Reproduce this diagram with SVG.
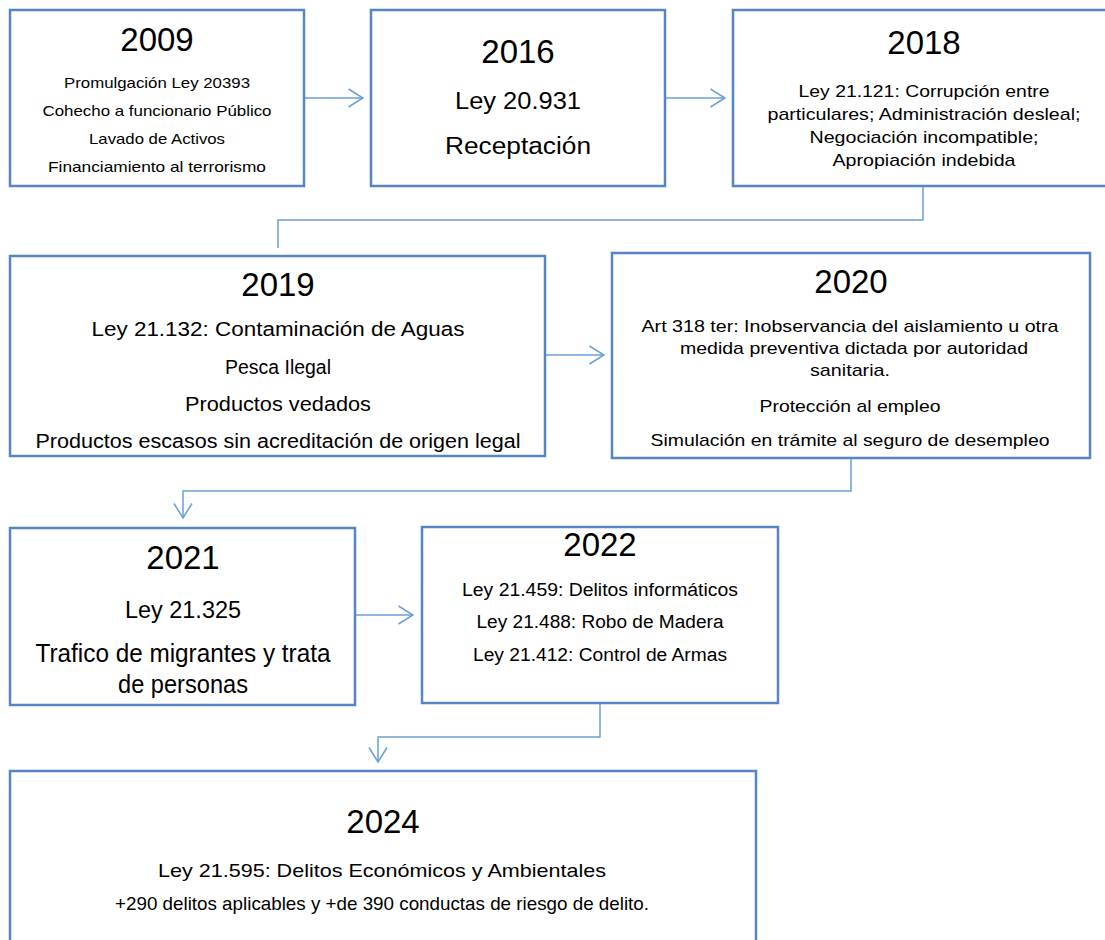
<svg xmlns="http://www.w3.org/2000/svg" width="1105" height="940" viewBox="0 0 1105 940">
<defs>
<style>
.box{fill:#fff;stroke:#5586C3;stroke-width:2.5}
.con{fill:none;stroke:#6A9FD8;stroke-width:1.5}
text{font-family:"Liberation Sans",Arial,sans-serif;fill:#000;text-anchor:middle}
.yr{font-size:33px}
</style>
<marker id="arr" viewBox="0 0 16 20" refX="15.5" refY="10" markerWidth="16" markerHeight="20" markerUnits="userSpaceOnUse" orient="auto">
<path d="M1,1 L15.5,10 L1,19" fill="none" stroke="#6A9FD8" stroke-width="1.5"/>
</marker>
</defs>
<rect width="1105" height="940" fill="#fff"/>
<g id="connectors">
<line class="con" x1="304" y1="98" x2="363" y2="98" marker-end="url(#arr)"/>
<line class="con" x1="665" y1="98" x2="725" y2="98" marker-end="url(#arr)"/>
<polyline class="con" points="923,186 923,220 278,220 278,248"/>
<line class="con" x1="545" y1="355" x2="604" y2="355" marker-end="url(#arr)"/>
<polyline class="con" points="851,458 851,491 183,491 183,518" marker-end="url(#arr)"/>
<line class="con" x1="355" y1="615" x2="413" y2="615" marker-end="url(#arr)"/>
<polyline class="con" points="600,703 600,737 378,737 378,762" marker-end="url(#arr)"/>
</g>
<g id="n2009">
<rect class="box" x="10" y="10" width="294" height="176"/>
<text class="yr" x="157" y="51">2009</text>
<g style="font-size:15px">
<text x="157" y="88" textLength="186" lengthAdjust="spacingAndGlyphs">Promulgación Ley 20393</text>
<text x="157" y="116" textLength="229" lengthAdjust="spacingAndGlyphs">Cohecho a funcionario Público</text>
<text x="157" y="144" textLength="136" lengthAdjust="spacingAndGlyphs">Lavado de Activos</text>
<text x="157" y="172" textLength="218" lengthAdjust="spacingAndGlyphs">Financiamiento al terrorismo</text>
</g>
</g>
<g id="n2016">
<rect class="box" x="371" y="10" width="294" height="176"/>
<text class="yr" x="518" y="63">2016</text>
<text x="518" y="109" style="font-size:23px" textLength="126" lengthAdjust="spacingAndGlyphs">Ley 20.931</text>
<text x="518" y="154" style="font-size:23px" textLength="146" lengthAdjust="spacingAndGlyphs">Receptación</text>
</g>
<g id="n2018">
<rect class="box" x="733" y="10" width="390" height="176"/>
<text class="yr" x="924" y="54">2018</text>
<g style="font-size:17px">
<text x="924" y="97" textLength="251" lengthAdjust="spacingAndGlyphs">Ley 21.121: Corrupción entre</text>
<text x="924" y="120" textLength="313" lengthAdjust="spacingAndGlyphs">particulares; Administración desleal;</text>
<text x="924" y="143" textLength="229" lengthAdjust="spacingAndGlyphs">Negociación incompatible;</text>
<text x="924" y="166" textLength="183" lengthAdjust="spacingAndGlyphs">Apropiación indebida</text>
</g>
</g>
<g id="n2019">
<rect class="box" x="10" y="256" width="535" height="200"/>
<text class="yr" x="278" y="296">2019</text>
<g style="font-size:20px">
<text x="278" y="336" textLength="373" lengthAdjust="spacingAndGlyphs">Ley 21.132: Contaminación de Aguas</text>
<text x="278" y="374" textLength="106" lengthAdjust="spacingAndGlyphs">Pesca Ilegal</text>
<text x="278" y="411" textLength="186" lengthAdjust="spacingAndGlyphs">Productos vedados</text>
<text x="278" y="448" textLength="485" lengthAdjust="spacingAndGlyphs">Productos escasos sin acreditación de origen legal</text>
</g>
</g>
<g id="n2020">
<rect class="box" x="612" y="253" width="478" height="205"/>
<text class="yr" x="851" y="293">2020</text>
<g style="font-size:17px">
<text x="850" y="332" textLength="417" lengthAdjust="spacingAndGlyphs">Art 318 ter: Inobservancia del aislamiento u otra</text>
<text x="854" y="354" textLength="348" lengthAdjust="spacingAndGlyphs">medida preventiva dictada por autoridad</text>
<text x="850" y="376" textLength="80" lengthAdjust="spacingAndGlyphs">sanitaria.</text>
<text x="850" y="412" textLength="181" lengthAdjust="spacingAndGlyphs">Protección al empleo</text>
<text x="850" y="446" textLength="399" lengthAdjust="spacingAndGlyphs">Simulación en trámite al seguro de desempleo</text>
</g>
</g>
<g id="n2021">
<rect class="box" x="10" y="528" width="345" height="177"/>
<text class="yr" x="183" y="569">2021</text>
<text x="183" y="618" style="font-size:23px" textLength="116" lengthAdjust="spacingAndGlyphs">Ley 21.325</text>
<text x="183" y="662" style="font-size:25px" textLength="295" lengthAdjust="spacingAndGlyphs">Trafico de migrantes y trata</text>
<text x="183" y="693" style="font-size:25px" textLength="130" lengthAdjust="spacingAndGlyphs">de personas</text>
</g>
<g id="n2022">
<rect class="box" x="422" y="527" width="356" height="176"/>
<text class="yr" x="600" y="556">2022</text>
<g style="font-size:18px">
<text x="600" y="596" textLength="276" lengthAdjust="spacingAndGlyphs">Ley 21.459: Delitos informáticos</text>
<text x="600" y="628" textLength="247" lengthAdjust="spacingAndGlyphs">Ley 21.488: Robo de Madera</text>
<text x="600" y="661" textLength="254" lengthAdjust="spacingAndGlyphs">Ley 21.412: Control de Armas</text>
</g>
</g>
<g id="n2024">
<rect class="box" x="10" y="771" width="746" height="200"/>
<text class="yr" x="383" y="833">2024</text>
<g style="font-size:19px">
<text x="382" y="877" textLength="448" lengthAdjust="spacingAndGlyphs">Ley 21.595: Delitos Económicos y Ambientales</text>
<text x="382" y="910" textLength="534" lengthAdjust="spacingAndGlyphs">+290 delitos aplicables y +de 390 conductas de riesgo de delito.</text>
</g>
</g>
</svg>
